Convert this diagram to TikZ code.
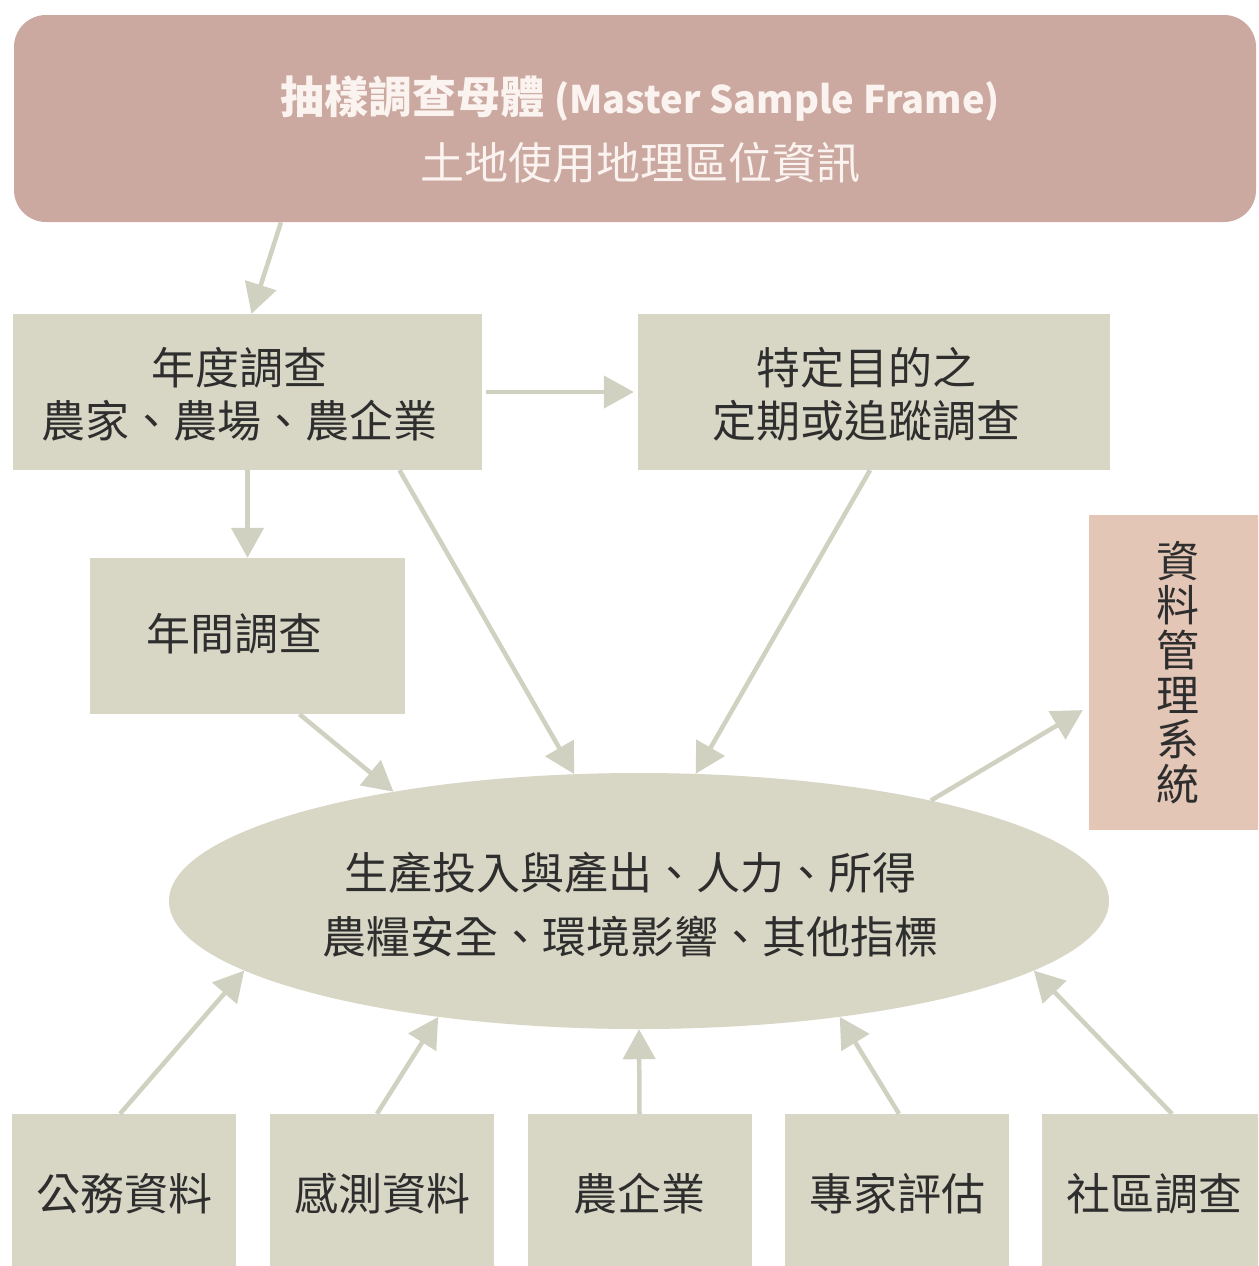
\documentclass[tikz,border=0pt]{standalone}
\usepackage{fontspec}
\setmainfont{Noto Sans CJK TC}
\usetikzlibrary{arrows.meta,shapes.geometric}
\definecolor{banner}{HTML}{CBA9A0}
\definecolor{boxfill}{HTML}{D8D7C5}
\definecolor{dmsfill}{HTML}{E3C6B6}
\definecolor{arrowc}{HTML}{D0D1C0}
\definecolor{txt}{HTML}{2E2E2E}
\definecolor{btxt}{HTML}{FBF3F0}
\begin{document}
\begin{tikzpicture}[x=1pt,y=-1pt,
  boxnode/.style={rectangle,fill=boxfill,inner sep=0pt,text=txt,align=center,
    font=\fontsize{44}{53}\selectfont},
  boxtext/.style={inner sep=0pt,text=txt,align=center,font=\fontsize{44}{53}\selectfont},
  arr/.style={draw=arrowc,line width=4.5pt,-{Triangle[length=30pt,width=32pt]}}]
\useasboundingbox (0,0) rectangle (1258,1266);
\fill[white] (0,0) rectangle (1258,1266);
\clip (0,0) rectangle (1258,1266);
% top banner
\node[rectangle,rounded corners=32pt,fill=banner,inner sep=0pt,
  minimum width=1242pt,minimum height=207pt] (T) at (635,118.5) {};
\node[inner sep=0pt,text=btxt,align=center,font=\fontsize{44}{66}\selectfont]
  (Tt) at ([xshift=5pt,yshift=-11pt]T.center)
  {{\bfseries 抽樣調查母體 {\fontsize{38}{66}\selectfont(Master Sample Frame)}}\\土地使用地理區位資訊};
% second row
\node[boxnode,minimum width=469pt,minimum height=156pt] (A) at (247.5,392) {};
\node[boxtext] (At) at ([xshift=-8pt,yshift=-2pt]A.center) {年度調查\\農家、農場、農企業};
\node[boxnode,minimum width=472pt,minimum height=156pt] (B) at (874,392) {};
\node[boxtext] (Bt) at ([xshift=-8pt,yshift=-2pt]B.center) {特定目的之\\定期或追蹤調查};
\node[boxnode,minimum width=315pt,minimum height=156pt] (C) at (247.5,636) {};
\node[boxtext] (Ct) at ([xshift=-13pt,yshift=2pt]C.center) {年間調查};
\node[boxnode,fill=dmsfill,minimum width=177pt,minimum height=315pt,
  font=\fontsize{43}{44.6}\selectfont] (D) at (1177.5,672.5)
  {資\\料\\管\\理\\系\\統};
% ellipse
\node[ellipse,fill=boxfill,inner sep=0pt,minimum width=940pt,minimum height=256pt] (E) at (639,901) {};
\node[inner sep=0pt,text=txt,align=center,font=\fontsize{44}{64}\selectfont]
  (Et) at ([xshift=-9pt,yshift=-4pt]E.center)
  {生產投入與產出、人力、所得\\農糧安全、環境影響、其他指標};
% bottom row
\node[boxnode,minimum width=224pt,minimum height=160pt] (P1) at (124,1194) {公務資料};
\node[boxnode,minimum width=224pt,minimum height=160pt] (P2) at (382,1194) {感測資料};
\node[boxnode,minimum width=224pt,minimum height=160pt] (P3) at (639.5,1194) {農企業};
\node[boxnode,minimum width=224pt,minimum height=160pt] (P4) at (897,1194) {專家評估};
\node[boxnode,minimum width=224pt,minimum height=160pt] (P5) at (1154,1194) {社區調查};
% connectors
\draw[arr] ([xshift=-354pt]T.south) -- ([xshift=4pt]A.north);
\draw[arr,shorten <=4pt,shorten >=4pt] (A.east) -- (B.west);
\draw[arr] (A.south) -- (C.north);
\draw[arr] ([xshift=152pt]A.south) -- (E.117);
\draw[arr] ([xshift=-4pt]B.south) -- (E.66);
\draw[arr] ([xshift=52pt]C.south) -- (E.156);
\draw[arr,shorten >=7pt] (E.19) -- ([yshift=-34pt]D.west);
\draw[arr] ([xshift=-4pt]P1.north) -- (E.190);
\draw[arr] ([xshift=-5pt]P2.north) -- (E.210);
\draw[arr] (P3.north) -- (E.south);
\draw[arr] ([xshift=2pt]P4.north) -- (E.330);
\draw[arr] ([xshift=18pt]P5.north) -- (E.350);
\end{tikzpicture}
\end{document}
